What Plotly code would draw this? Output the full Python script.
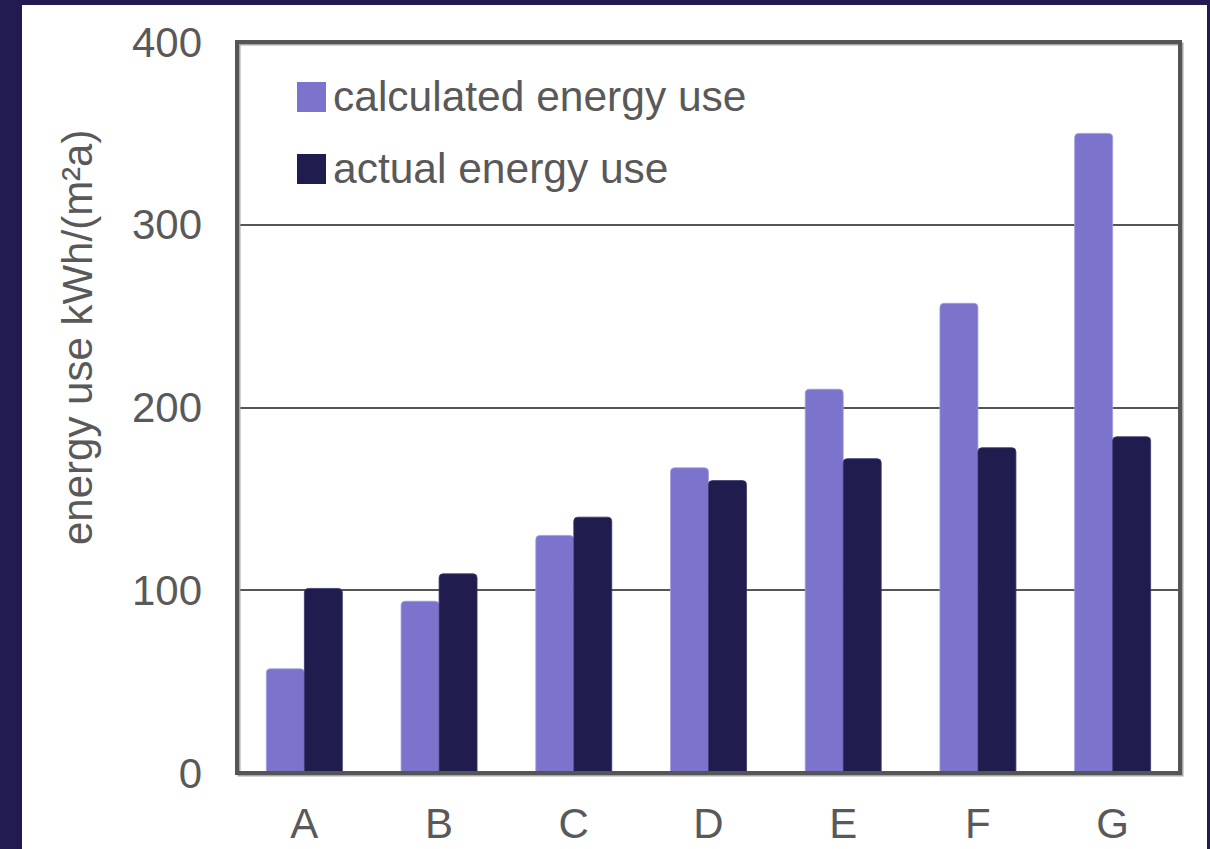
import plotly.graph_objects as go

# Buildings and their specific energy use, kWh/(m²a)
categories = ["A", "B", "C", "D", "E", "F", "G"]
calculated = [57, 94, 130, 167, 210, 257, 350]
actual = [101, 109, 140, 160, 172, 178, 184]
series_names = ["calculated energy use", "actual energy use"]
y_ticks = [0, 100, 200, 300, 400]
y_title = "energy use kWh/(m²a)"

CALC_COLOR = "#7b73cc"
ACTUAL_COLOR = "#201d4e"
FRAME_COLOR = "#211b52"
TEXT_COLOR = "#595959"
FONT = "Liberation Sans, Arial, sans-serif"

W, H = 1210, 849
L, R, T, B = 237, 30, 42, 76
PW, PH = W - L - R, H - T - B


def px_x(px):
    return (px - L) / PW


def px_y(py):
    return (H - B - py) / PH


fig = go.Figure()
fig.add_trace(go.Bar(
    x=categories, y=calculated, name=series_names[0],
    marker=dict(color=CALC_COLOR, cornerradius=4,
                line=dict(color="#a29cdc", width=0.8)),
    showlegend=False,
))
fig.add_trace(go.Bar(
    x=categories, y=actual, name=series_names[1],
    marker=dict(color=ACTUAL_COLOR, cornerradius=4,
                line=dict(color="#3a3670", width=0.8)),
    showlegend=False,
))

shapes = [
    # white card inside the navy frame
    dict(type="rect", xref="paper", yref="paper", layer="below",
         x0=px_x(22), x1=px_x(1207), y0=px_y(H + 20), y1=px_y(5),
         fillcolor="white", line=dict(width=0)),
    # soft shadow of the plot frame
    dict(type="rect", xref="paper", yref="paper", layer="above",
         x0=px_x(L + 2), x1=px_x(W - R + 2), y0=px_y(H - B + 2), y1=px_y(T + 2),
         line=dict(color="#a6a6a6", width=3)),
    # plot frame
    dict(type="rect", xref="paper", yref="paper", layer="above",
         x0=0, x1=1, y0=0, y1=1, line=dict(color="#555555", width=4)),
]

# vertical axis title, placed a bit above the middle of the plot
annotations = [dict(xref="paper", yref="paper", x=px_x(77), y=px_y(338),
                    xanchor="center", yanchor="middle", showarrow=False,
                    textangle=-90, text=y_title,
                    font=dict(size=42, color=TEXT_COLOR, family=FONT))]

legend_colors = [CALC_COLOR, ACTUAL_COLOR]
legend_rows = [97, 169]
for name, color, cy in zip(series_names, legend_colors, legend_rows):
    shapes.append(dict(type="rect", xref="paper", yref="paper", layer="above",
                       x0=px_x(297), x1=px_x(326), y0=px_y(cy + 15), y1=px_y(cy - 15),
                       fillcolor=color, line=dict(width=0)))
    annotations.append(dict(xref="paper", yref="paper", x=px_x(331), y=px_y(cy),
                            xanchor="left", yanchor="middle", showarrow=False,
                            text=name, font=dict(size=42.5, color=TEXT_COLOR, family=FONT)))

fig.update_layout(
    width=W, height=H,
    margin=dict(l=L, r=R, t=T, b=B, pad=0),
    paper_bgcolor=FRAME_COLOR,
    plot_bgcolor="white",
    barmode="group",
    bargap=0.436,
    bargroupgap=0,
    font=dict(family=FONT, size=42, color=TEXT_COLOR),
    shapes=shapes,
    annotations=annotations,
    showlegend=False,
    xaxis=dict(
        showline=False, showgrid=False, ticks="", zeroline=False,
        automargin=False,
        tickfont=dict(size=42, color=TEXT_COLOR),
        ticklabelstandoff=22,
    ),
    yaxis=dict(
        range=[0, 400], tickvals=y_ticks, showline=False,
        showgrid=True, gridcolor="#555555", gridwidth=1.6,
        zeroline=False, ticks="", automargin=False,
        tickfont=dict(size=42, color=TEXT_COLOR),
        ticklabelstandoff=34,
    ),
)

fig.write_html("out.html")
